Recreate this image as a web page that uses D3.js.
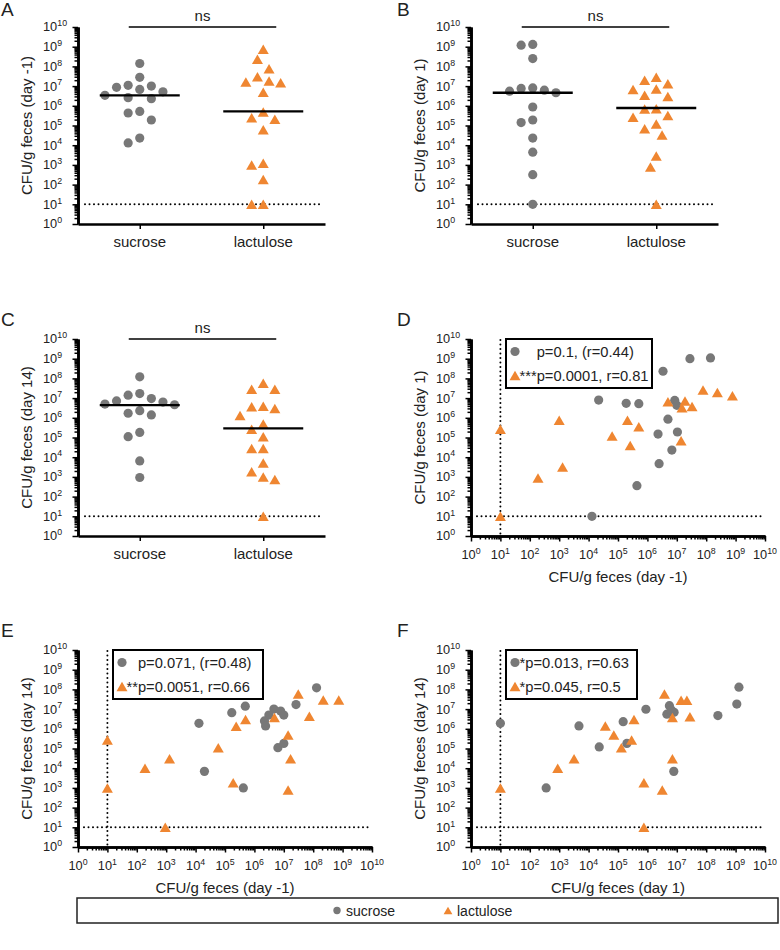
<!DOCTYPE html>
<html><head><meta charset="utf-8">
<script src="https://cdn.jsdelivr.net/npm/d3@7"></script>
<style>
body{margin:0;background:#fff}
text{font-family:"Liberation Sans",Arial,Helvetica,sans-serif;fill:#222}
</style>
</head><body>
<svg id="chart" width="780" height="950"></svg>
<script>
// ---------- data ----------
const groups = ["sucrose", "lactulose"];
const decades = [0,1,2,3,4,5,6,7,8,9,10];
const minorMultipliers = [2,3,4,5,6,7,8,9];
const detectionLimit = 10;

// Panel A: day -1
const dayM1Sucrose   = [1.4e8,2.8e7,6.8e6,1.1e7,1.0e7,8.7e6,5.1e6,3.4e6,2.3e6,2.6e6,4.3e5,5.2e5,1.9e5,2.3e4,1.3e4];
const dayM1Lactulose = [7.4e8,2.3e8,7.6e7,3.0e7,1.8e7,1.5e7,1.6e7,4.9e6,4.8e5,2.5e5,2.1e5,6.0e4,9.8e2,1.2e3,1.8e2,10,10];
const dayM1Medians   = [3.4e6, 5.2e5];
// Panel B: day 1
const day1Sucrose    = [1.2e9,1.3e9,2.5e8,8.1e6,6.2e6,4.6e6,5.5e6,7.6e6,8.7e5,1.4e5,1.9e5,2.3e4,4.4e3,3.2e2,10];
const day1Lactulose  = [2.8e7,2.0e7,1.3e7,6.8e6,7.2e6,3.0e6,3.4e6,7.1e5,6.9e5,3.2e5,2.6e5,1.2e5,6.8e4,3.3e4,2.8e3,7.9e2,10];
const day1Medians    = [4.6e6, 7.8e5];
// Panel C: day 14
const day14Sucrose   = [1.2e8,1.7e7,1.4e7,9.5e6,6.3e6,7.2e6,4.6e6,5.0e6,1.7e6,1.4e6,2.3e6,1.1e5,1.8e5,6.5e3,9.3e2];
const day14Lactulose = [5.6e7,2.8e7,2.8e7,3.9e6,3.0e6,3.6e6,1.3e6,4.8e5,2.6e5,1.1e5,2.8e4,2.8e4,5.1e3,1.0e3,7.4e2,1.8e3,10];
const day14Medians   = [4.4e6, 2.9e5];

// Panel D: day -1 (x) vs day 1 (y)
const corrDSucrose = [[2.8e7,1.0e9],[1.4e8,1.1e9],[3.4e6,2.3e8],[2.2e4,7.9e6],[1.9e5,5.4e6],[5.1e5,5.2e6],[8.5e6,7.6e6],[1.0e7,4.3e6],[5.0e6,8.5e5],[2.3e6,1.5e5],[1.05e7,1.9e5],[6.8e6,2.3e4],[2.5e6,4.7e3],[4.4e5,3.6e2],[1.3e4,10]];
const corrDLactulose = [[7.8e7,2.6e7],[2.4e8,1.9e7],[7.8e8,1.3e7],[5.0e6,6.6e6],[1.9e7,7.1e6],[1.5e7,3.2e6],[3.3e7,3.8e6],[1.0e3,7.6e5],[2.1e5,7.6e5],[5.1e5,3.5e5],[10,2.6e5],[6.3e4,1.2e5],[1.4e7,6.9e4],[2.6e5,3.9e4],[1.3e3,3.2e3],[1.9e2,8.9e2],[10,10]];
// Panel E: day -1 (x) vs day 14 (y)
const corrESucrose = [[1.3e8,1.2e8],[2.6e7,1.7e7],[4.9e5,1.4e7],[1.7e5,6.6e6],[4.6e6,1.0e7],[3.1e6,5.0e6],[7.8e6,7.9e6],[1.0e7,5.0e6],[2.2e6,2.5e6],[2.4e6,1.4e6],[1.3e4,1.9e6],[6.3e6,1.1e5],[1.0e7,1.8e5],[2.0e4,6.9e3],[4.2e5,1.0e3]];
const corrELactulose = [[3.1e7,5.9e7],[2.2e8,2.9e7],[7.4e8,2.9e7],[7.4e7,4.3e6],[4.8e6,3.8e6],[5.0e5,3.0e6],[2.4e5,1.35e6],[1.4e7,4.9e5],[5.9e4,1.1e5],[10,2.7e5],[1.7e7,3.0e4],[1.3e3,3.0e4],[1.9e2,1.0e4],[1.9e5,1.8e3],[1.4e7,7.8e2],[10,1.0e3],[9.3e2,10]];
// Panel F: day 1 (x) vs day 14 (y)
const corrFSucrose = [[1.3e9,1.3e8],[1.1e9,1.8e7],[2.5e8,4.7e6],[5.6e6,1.5e7],[8.9e5,9.8e6],[4.6e6,5.5e6],[8.1e6,6.9e6],[6.5e6,8.9e6],[1.5e5,2.3e6],[4.7e3,1.4e6],[10,1.9e6],[2.3e4,1.2e5],[2.0e5,1.8e5],[3.6e2,1.0e3],[7.9e6,6.9e3]];
const corrFLactulose = [[3.8e6,5.9e7],[1.4e7,2.8e7],[2.2e7,2.8e7],[2.8e7,4.1e6],[7.1e6,3.7e6],[3.5e5,3.0e6],[3.7e4,1.4e6],[7.2e4,4.9e5],[2.9e5,2.7e5],[1.3e5,1.1e5],[10,1.0e3],[8.9e2,1.0e4],[3.2e3,3.0e4],[7.1e6,3.0e4],[7.6e5,1.8e3],[3.2e6,7.8e2],[7.6e5,10]];

const legendStarsD = ["", "***"], legendTextD = ["p=0.1, (r=0.44)", "p=0.0001, r=0.81"];
const legendStarsE = ["", "**"],  legendTextE = ["p=0.071, (r=0.48)", "p=0.0051, r=0.66"];
const legendStarsF = ["*", "*"],  legendTextF = ["p=0.013, r=0.63", "p=0.045, r=0.5"];

// ---------- style ----------
const GRAY = "#787878", ORANGE = "#ef8631";
const R = 4.6, TW = 11, TH = 9.5;
const H = 197, WCAT = 247, WSC = 294;
const svg = d3.select("#chart");
const triPath = `M0,${-TH/2}L${TW/2},${TH/2}L${-TW/2},${TH/2}Z`;

function drawMarker(g, shape, x, y, scale=1){
  if(shape==="circle") g.append("circle").attr("cx",x).attr("cy",y).attr("r",R*scale).attr("fill",GRAY);
  else g.append("path").attr("d",triPath).attr("transform",`translate(${x},${y}) scale(${scale})`).attr("fill",ORANGE);
}

function styleAxis(a){
  a.selectAll("line").attr("stroke","#000").attr("stroke-width",1.5);
  a.select(".domain").attr("stroke","#000").attr("stroke-width",2.6);
}

function yAxis(g, ax, y){
  const minor = [];
  decades.slice(0,-1).forEach(e=>minorMultipliers.forEach(m=>minor.push(m*Math.pow(10,e))));
  const majors = decades.map(e=>Math.pow(10,e));
  styleAxis(g.append("g").attr("transform",`translate(${ax},0)`)
    .call(d3.axisLeft(y).tickValues(minor).tickSize(3.5).tickSizeOuter(0).tickFormat("")));
  styleAxis(g.append("g").attr("transform",`translate(${ax},0)`)
    .call(d3.axisLeft(y).tickValues(majors).tickSize(5.5).tickSizeOuter(0).tickFormat("")));
  decades.forEach(e=>{
    const t = g.append("text").attr("x",ax-35).attr("y",y(Math.pow(10,e))+4.4).attr("font-size",12.8);
    t.append("tspan").text("10");
    t.append("tspan").attr("dy",-5.2).attr("font-size",8.8).text(String(e));
  });
}

function xLogAxis(g, ay, x){
  const minor = [];
  decades.slice(0,-1).forEach(e=>minorMultipliers.forEach(m=>minor.push(m*Math.pow(10,e))));
  const majors = decades.map(e=>Math.pow(10,e));
  styleAxis(g.append("g").attr("transform",`translate(0,${ay})`)
    .call(d3.axisBottom(x).tickValues(minor).tickSize(3.5).tickSizeOuter(0).tickFormat("")));
  styleAxis(g.append("g").attr("transform",`translate(0,${ay})`)
    .call(d3.axisBottom(x).tickValues(majors).tickSize(5.5).tickSizeOuter(0).tickFormat("")));
  decades.forEach(e=>{
    const t = g.append("text").attr("x",x(Math.pow(10,e))).attr("y",ay+23).attr("font-size",12.8).attr("text-anchor","middle");
    t.append("tspan").text("10");
    t.append("tspan").attr("dy",-5.2).attr("font-size",8.8).text(String(e));
  });
}

function panelLetter(x, y, s){ svg.append("text").attr("x",x).attr("y",y).attr("font-size",19).text(s); }
function yTitle(ax, top, s){
  svg.append("text").attr("transform",`translate(${ax-46},${top+H/2}) rotate(-90)`)
    .attr("text-anchor","middle").attr("font-size",15).text(s);
}
function dotted(g, x1,y1,x2,y2){
  g.append("line").attr("x1",x1).attr("y1",y1).attr("x2",x2).attr("y2",y2)
   .attr("stroke","#000").attr("stroke-width",2).attr("stroke-linecap","round").attr("stroke-dasharray","0,4.5");
}

function swarm(vals, cx, y, minD){
  const step = 5.8;
  const pts = vals.map(v=>({v, py:y(v)})).sort((a,b)=>a.py-b.py);
  const placed = [];
  for(const p of pts){
    for(let k=0;k<60;k++){
      const off = k===0?0:(k%2?-1:1)*Math.ceil(k/2)*step;
      const px = cx+off;
      if(placed.every(q=>(q.px-px)**2+(q.py-p.py)**2 >= minD*minD)){p.px=px;break;}
    }
    placed.push(p);
  }
  return placed;
}

function catPanel(ax, top, letter, lx, ly, title, suc, lac, med){
  const g = svg.append("g");
  const x = d3.scalePoint().domain(groups).range([ax, ax+WCAT]).padding(0.5);
  const y = d3.scaleLog().domain([1,1e10]).range([top+H, top]);
  panelLetter(lx, ly, letter);
  yAxis(g, ax, y);
  const gx = g.append("g").attr("transform",`translate(0,${top+H})`)
    .call(d3.axisBottom(x).tickSize(5).tickSizeOuter(0).tickFormat(""));
  styleAxis(gx);
  groups.forEach(c=>g.append("text").attr("x",x(c)).attr("y",top+H+23).attr("text-anchor","middle").attr("font-size",15).text(c));
  yTitle(ax, top, title);
  dotted(g, ax+7, y(detectionLimit), ax+WCAT-5, y(detectionLimit));
  const x1 = x(groups[0])-11, x2 = x(groups[1])+13;
  g.append("line").attr("x1",x1).attr("x2",x2).attr("y1",top).attr("y2",top).attr("stroke","#000").attr("stroke-width",1.5);
  g.append("text").attr("x",(x1+x2)/2).attr("y",top-6).attr("text-anchor","middle").attr("font-size",15).text("ns");
  swarm(suc, x(groups[0]), y, 11.4).forEach(p=>drawMarker(g,"circle",p.px,p.py));
  swarm(lac, x(groups[1]), y, 11.4).forEach(p=>drawMarker(g,"triangle",p.px,p.py));
  groups.forEach((c,i)=>g.append("line").attr("x1",x(c)-40).attr("x2",x(c)+40)
    .attr("y1",y(med[i])).attr("y2",y(med[i])).attr("stroke","#000").attr("stroke-width",2.4));
}

function scatterPanel(ax, top, letter, lx, ly, ytitle, xtitle, suc, lac, stars, texts, boxW){
  const g = svg.append("g");
  const x = d3.scaleLog().domain([1,1e10]).range([ax, ax+WSC]);
  const y = d3.scaleLog().domain([1,1e10]).range([top+H, top]);
  panelLetter(lx, ly, letter);
  dotted(g, x(detectionLimit), top+1, x(detectionLimit), top+H);
  dotted(g, ax+6, y(detectionLimit), ax+WSC, y(detectionLimit));
  yAxis(g, ax, y);
  xLogAxis(g, top+H, x);
  yTitle(ax, top, ytitle);
  g.append("text").attr("x",ax+WSC/2).attr("y",top+H+46).attr("text-anchor","middle").attr("font-size",15).text(xtitle);
  suc.forEach(d=>drawMarker(g,"circle",x(d[0]),y(d[1])));
  lac.forEach(d=>drawMarker(g,"triangle",x(d[0]),y(d[1])));
  const bx = ax+35, by = top, bh = 49;
  const lg = g.append("g");
  lg.append("rect").attr("x",bx).attr("y",by).attr("width",boxW).attr("height",bh)
    .attr("fill","#fff").attr("stroke","#000").attr("stroke-width",2);
  const mx = bx+9;
  const tmp = lg.append("text").attr("font-size",14.7);
  const starW = stars.map(s=>{tmp.text(s);return tmp.node().getComputedTextLength();});
  tmp.remove();
  const pX = mx+4.5+d3.max(starW);
  const rowsY = [by+12.5, by+36.5];
  ["circle","triangle"].forEach((shape,i)=>{
    drawMarker(lg, shape, mx, rowsY[i]);
    lg.append("text").attr("x",pX).attr("y",rowsY[i]+5.2).attr("text-anchor","end").attr("font-size",14.7).text(stars[i]);
    lg.append("text").attr("x",pX).attr("y",rowsY[i]+5.2).attr("font-size",14.7).text(texts[i]);
  });
}

const LX = 78, RX = 471, TOPS = [27, 339, 650];
catPanel(LX, TOPS[0], "A", 1, 16, "CFU/g feces (day -1)", dayM1Sucrose, dayM1Lactulose, dayM1Medians);
catPanel(RX, TOPS[0], "B", 397, 16, "CFU/g feces (day 1)", day1Sucrose, day1Lactulose, day1Medians);
catPanel(LX, TOPS[1], "C", 1, 326, "CFU/g feces (day 14)", day14Sucrose, day14Lactulose, day14Medians);
scatterPanel(RX, TOPS[1], "D", 397, 326, "CFU/g feces (day 1)", "CFU/g feces (day -1)", corrDSucrose, corrDLactulose, legendStarsD, legendTextD, 146);
scatterPanel(LX, TOPS[2], "E", 1, 637, "CFU/g feces (day 14)", "CFU/g feces (day -1)", corrESucrose, corrELactulose, legendStarsE, legendTextE, 150);
scatterPanel(RX, TOPS[2], "F", 397, 637, "CFU/g feces (day 14)", "CFU/g feces (day 1)", corrFSucrose, corrFLactulose, legendStarsF, legendTextF, 131);

// bottom legend
const bl = svg.append("g");
bl.append("rect").attr("x",77).attr("y",898).attr("width",701).attr("height",25).attr("fill","#fff").attr("stroke","#222").attr("stroke-width",1.5);
const legItems = [{shape:"circle", label:groups[0], x:337},{shape:"triangle", label:groups[1], x:448}];
legItems.forEach(it=>{
  drawMarker(bl, it.shape, it.x, 910.5, 0.8);
  bl.append("text").attr("x",it.x+9).attr("y",915.5).attr("font-size",14).text(it.label);
});
</script>
</body></html>
